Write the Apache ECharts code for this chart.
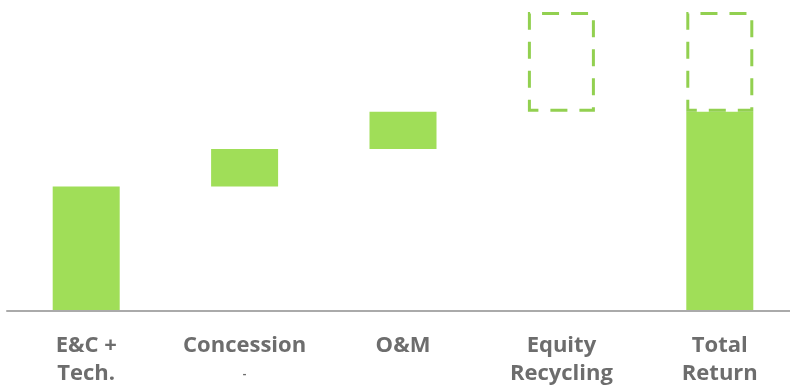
<!DOCTYPE html>
<html>
<head>
<meta charset="utf-8">
<script src="https://cdn.jsdelivr.net/npm/echarts@6/dist/echarts.min.js"></script>
<style>
  html, body { margin: 0; padding: 0; background: #ffffff; }
  #chart { width: 790px; height: 389px; }
</style>
</head>
<body>
<div id="chart"></div>
<script>
// Return build-up: each component stacks on the previous ones
const categories = ['E&C +\nTech.', 'Concession\n{dash|-}', 'O&M', 'Equity\nRecycling', 'Total\nReturn'];
const steps = [5, 1.5, 1.5];        // solid increments
const equityRecycling = 4;          // potential upside, dashed outline
const totalReturn = 8;              // solid total

const FILL = '#a0de58';
const OUTLINE = '#92d050';

// invisible offsets that lift the floating bars
const offsets = [];
const solid = [];
let running = 0;
steps.forEach(v => { offsets.push(running); solid.push(v); running += v; });
offsets.push(totalReturn); solid.push(0);   // equity recycling floats on the total
offsets.push(0); solid.push(totalReturn);   // total starts from zero
const dashed = ['-', '-', '-', equityRecycling, equityRecycling];

const chart = echarts.init(document.getElementById('chart'));
chart.setOption({
  animation: false,
  grid: { left: 7, width: 792, top: 12, bottom: 78, outerBoundsMode: 'none', containLabel: false },
  xAxis: {
    type: 'category',
    data: categories,
    z: 5,
    axisLine: { lineStyle: { color: '#aaaaaa', width: 2 } },
    axisTick: { show: false },
    axisLabel: {
      interval: 0,
      margin: 21,
      color: '#6d6d6d',
      fontFamily: 'Open Sans',
      fontWeight: 'bold',
      fontSize: 22,
      lineHeight: 28,
      rich: { dash: { fontSize: 11, color: '#6d6d6d', fontWeight: 'bold', lineHeight: 28 } }
    }
  },
  yAxis: {
    type: 'value', min: 0, max: 12,
    show: false, splitLine: { show: false }
  },
  series: [
    {
      type: 'bar', stack: 'w', data: offsets, barWidth: 67,
      itemStyle: { color: 'transparent' }, silent: true
    },
    {
      type: 'bar', stack: 'w', data: solid, barWidth: 67,
      itemStyle: { color: FILL }
    },
    {
      type: 'bar', stack: 'w', data: dashed, barWidth: 67,
      itemStyle: {
        color: 'transparent', borderColor: OUTLINE, borderWidth: 3,
        borderType: [17, 12], borderDashOffset: 8
      }
    }
  ]
});
</script>
</body>
</html>
